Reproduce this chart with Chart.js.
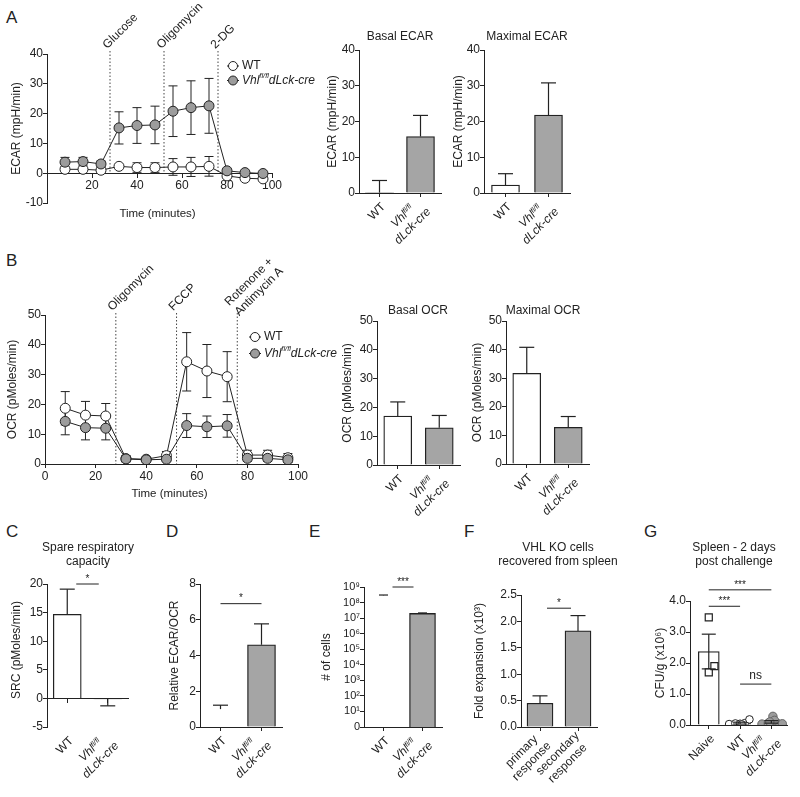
<!DOCTYPE html>
<html>
<head>
<meta charset="utf-8">
<script src="https://cdn.jsdelivr.net/npm/chart.js@4/dist/chart.umd.min.js"></script>
<style>
  body { margin: 0; background: #fff; width: 800px; height: 797px; position: relative; overflow: hidden;
         font-family: 'Liberation Sans', Arial, sans-serif; color: #222; }
  canvas { position: absolute; left: 0; top: 0; }
  .panel { position: absolute; font-size: 17px; line-height: 17px; }
  .tick, .evt { position: absolute; font-size: 12px; line-height: 1.15; white-space: nowrap; }
  .tick { text-align: center; transform-origin: 100% 50%; transform: translateY(-50%) rotate(-45deg); }
  .evt { text-align: left; transform-origin: 0 50%; transform: translateY(-50%) rotate(-45deg); }
  sup { font-size: 62%; line-height: 0; vertical-align: 0.5em; }
</style>
</head>
<body>
<div class="panel" style="left:6px;top:9px">A</div>
<div class="panel" style="left:6px;top:252px">B</div>
<div class="panel" style="left:6px;top:523px">C</div>
<div class="panel" style="left:166px;top:523px">D</div>
<div class="panel" style="left:309px;top:523px">E</div>
<div class="panel" style="left:464px;top:523px">F</div>
<div class="panel" style="left:644px;top:523px">G</div>

<canvas id="ecarTime" width="800" height="797"></canvas>
<canvas id="ecarBasal" width="800" height="797"></canvas>
<canvas id="ecarMax" width="800" height="797"></canvas>
<canvas id="ocrTime" width="800" height="797"></canvas>
<canvas id="ocrBasal" width="800" height="797"></canvas>
<canvas id="ocrMax" width="800" height="797"></canvas>
<canvas id="srcChart" width="800" height="797"></canvas>
<canvas id="ratioChart" width="800" height="797"></canvas>
<canvas id="cellsChart" width="800" height="797"></canvas>
<canvas id="foldChart" width="800" height="797"></canvas>
<canvas id="cfuChart" width="800" height="797"></canvas>

<script>
// ---- data ----
const timeMin = [8, 16, 24, 32, 40, 48, 56, 64, 72, 80, 88, 96];
const seriesNames = ['WT', 'Vhl fl/fl dLck-cre'];

const ecarWT = [1.3, 1.3, 1.0, 2.3, 1.9, 1.9, 2.1, 2.1, 2.3, -0.9, -1.7, -1.9];
const ecarWTErr = [0.5, 0.5, 0.5, 0.5, 1.6, 1.6, 2.8, 3.2, 3.3, 0.6, 0.6, 0.6];
const ecarVhl = [3.7, 3.9, 3.1, 15.2, 16.0, 16.2, 20.8, 22.0, 22.6, 0.8, 0.2, -0.1];
const ecarVhlErr = [1.6, 1.4, 1.0, 5.4, 6.0, 6.3, 8.5, 9.0, 9.2, 0.8, 0.6, 0.5];
const ecarEventTimes = [28, 52, 76];
const ecarEventLabels = [['Glucose'], ['Oligomycin'], ['2-DG']];
const ecarTicksX = [20, 40, 60, 80, 100];
const ecarTicksY = [-10, 0, 10, 20, 30, 40];

const ocrWT = [18.7, 16.4, 16.1, 1.8, 1.6, 2.8, 34.3, 31.2, 29.3, 3.0, 3.0, 2.1];
const ocrWTErr = [5.6, 4.6, 4.2, 1.0, 0.6, 1.4, 9.8, 8.9, 8.4, 1.6, 1.6, 1.4];
const ocrVhl = [14.3, 12.2, 12.0, 1.7, 1.4, 1.6, 12.9, 12.5, 12.8, 1.9, 1.9, 1.4];
const ocrVhlErr = [4.5, 4.1, 3.9, 1.0, 0.6, 0.8, 4.0, 3.6, 3.8, 1.0, 1.0, 0.8];
const ocrEventTimes = [28, 52, 76];
const ocrEventLabels = [['Oligomycin'], ['FCCP'], ['Rotenone +', 'Antimycin A']];
const ocrTicksX = [0, 20, 40, 60, 80, 100];
const ocrTicksY = [0, 10, 20, 30, 40, 50];

const genotypes = ['WT', 'Vhl fl/fl dLck-cre'];
const basalEcar = [0.1, 15.8];
const basalEcarErr = [3.4, 5.9];
const maxEcar = [2.2, 21.8];
const maxEcarErr = [3.2, 9.0];
const basalOcr = [17.0, 12.9];
const basalOcrErr = [4.9, 4.3];
const maxOcr = [31.7, 12.8];
const maxOcrErr = [9.1, 3.8];

const srcValues = [14.7, -0.1];
const srcErr = [4.4, 1.2];
const srcTicks = [-5, 0, 5, 10, 15, 20];

const ratioValues = [1.0, 4.6];
const ratioErr = [0.22, 1.17];
const ratioTicks = [0, 2, 4, 6, 8];

const cellCounts = [2.9e8, 2.0e7];
const cellCountsErr = [0.15e8, 0.15e7];
const cellTicks = [1, 1e1, 1e2, 1e3, 1e4, 1e5, 1e6, 1e7, 1e8, 1e9];

const expansionGroups = ['primary response', 'secondary response'];
const foldExpansion = [0.45, 1.82];
const foldErr = [0.14, 0.29];
const foldTicks = [0, 0.5, 1.0, 1.5, 2.0, 2.5];

const cfuGroups = ['Naive', 'WT', 'Vhl fl/fl dLck-cre'];
const cfuMean = [2.37, 0.06, 0.10];
const cfuErr = [0.56, 0.03, 0.04];
const cfuNaive = [3.47, 1.70, 1.90];
const cfuWT = [0.03, 0.05, 0.04, 0.06, 0.18, 0.02];
const cfuVhl = [0.03, 0.06, 0.28, 0.05, 0.04, 0.15, 0.10];
const cfuTicks = [0, 1, 2, 3, 4];

// significance: [group a, group b, height, mark]
const srcSig = [[0, 1, 20, '*']];
const ratioSig = [[0, 1, 6.9, '*']];
const cellSig = [[0, 1, 1e9, '***']];
const foldSig = [[0, 1, 2.25, '*']];
const cfuSig = [[0, 1, 3.83, '***'], [0, 2, 4.36, '***'], [1, 2, 1.32, 'ns']];

// ---- drawing helpers ----
const FONT = "'Liberation Sans', Arial, Helvetica, sans-serif";
const INK = '#222';
const GREY = '#a5a5a5';
const DOT_GREY = '#9c9c9c';

function setFont(ctx, size, italic) {
  ctx.font = (italic ? 'italic ' : '') + size + 'px ' + FONT;
}

function richInline(name) {
  if (name.startsWith('Vhl')) {
    const parts = name.split(' ');
    return [['Vhl', 'i'], [parts[1], 'is'], [parts[2], 'i']];
  }
  return [[name, '']];
}
function richHTML(name) {
  if (name.startsWith('Vhl')) {
    const parts = name.split(' ');
    return '<i>Vhl<sup>' + parts[1] + '</sup></i><br><i>' + parts[2] + '</i>';
  }
  return name.split(' ').join('<br>');
}

function drawSegs(ctx, segs, x, y, size) {
  for (const [t, f] of segs) {
    const sup = f.includes('s');
    setFont(ctx, sup ? size * 0.62 : size, f.includes('i'));
    ctx.fillText(t, x, sup ? y - size * 0.36 : y);
    x += ctx.measureText(t).width;
  }
}

function seg(ctx, x1, y1, x2, y2) {
  ctx.beginPath();
  ctx.moveTo(x1, y1);
  ctx.lineTo(x2, y2);
  ctx.stroke();
}

function text(ctx, s, x, y, size, rot) {
  ctx.save();
  setFont(ctx, size, false);
  ctx.fillStyle = INK;
  ctx.textAlign = 'center';
  ctx.textBaseline = 'middle';
  ctx.translate(x, y);
  if (rot) ctx.rotate(rot);
  ctx.fillText(s, 0, 0);
  ctx.restore();
}

// slanted category label: right end of the block at (x, y)
function tickLabel(name, x, y) {
  const d = document.createElement('div');
  d.className = 'tick';
  d.innerHTML = richHTML(name);
  d.style.right = (800 - x) + 'px';
  d.style.top = y + 'px';
  document.body.appendChild(d);
}
// slanted event label: left middle of the block at (x, y)
function eventLabel(lines, x, y) {
  const d = document.createElement('div');
  d.className = 'evt';
  d.innerHTML = lines.join('<br>');
  d.style.left = x + 'px';
  d.style.top = y + 'px';
  document.body.appendChild(d);
}

function padFor(L, T, R, B, xh) {
  return { left: L - 40, top: T, right: 800 - R, bottom: 797 - B - (xh || 0) };
}

function yScale(min, max, ticks, fmt, size) {
  return {
    type: 'linear', min, max,
    afterFit: s => { s.width = 40; },
    afterBuildTicks: s => { s.ticks = ticks.map(v => ({ value: v })); },
    grid: { drawOnChartArea: false, drawTicks: true, tickLength: 4, color: INK, tickColor: INK },
    border: { display: true, color: INK, width: 1 },
    ticks: { autoSkip: false, padding: 0, color: INK, font: { family: FONT, size: size || 12 },
             callback: fmt || (v => String(v)) }
  };
}

const baseOptions = () => ({
  responsive: false, animation: false, events: [], devicePixelRatio: 1,
  plugins: { legend: { display: false }, tooltip: { enabled: false } }
});

// ---- time course charts ----
function lineChart(id, c) {
  const series = [
    { name: seriesNames[0], values: c.wt, errs: c.wtErr, fill: '#fff', order: 1 },
    { name: seriesNames[1], values: c.vhl, errs: c.vhlErr, fill: DOT_GREY, order: 0 }
  ];
  const xh = c.xAtZero ? 0 : 20;
  const deco = {
    id: 'deco',
    beforeDatasetsDraw(chart) {
      const ctx = chart.ctx, xs = chart.scales.x, ys = chart.scales.y;
      ctx.save();
      ctx.strokeStyle = '#444';
      ctx.lineWidth = 1;
      ctx.setLineDash([1.5, 2]);
      c.eventTimes.forEach(t => {
        const px = xs.getPixelForValue(t);
        seg(ctx, px, c.eventTop, px, ys.getPixelForValue(0));
      });
      ctx.setLineDash([]);
      ctx.strokeStyle = INK;
      series.forEach(s => s.values.forEach((v, i) => {
        const px = xs.getPixelForValue(timeMin[i]);
        const a = ys.getPixelForValue(v + s.errs[i]);
        const b = ys.getPixelForValue(v - s.errs[i]);
        seg(ctx, px, a, px, b);
        seg(ctx, px - 4.5, a, px + 4.5, a);
        seg(ctx, px - 4.5, b, px + 4.5, b);
      }));
      ctx.restore();
    },
    afterDraw(chart) {
      const ctx = chart.ctx, xs = chart.scales.x, ca = chart.chartArea;
      if (!chart.$labelsDone) {
        chart.$labelsDone = true;
        c.eventTimes.forEach((t, i) => eventLabel(c.eventLabels[i], xs.getPixelForValue(t) - 5.5, c.eventTop - 4.5));
      }
      ctx.save();
      ctx.strokeStyle = INK;
      ctx.lineWidth = 1;
      series.forEach((s, k) => {
        const x0 = c.legend[0], y0 = c.legend[1] + k * c.legend[2];
        seg(ctx, x0 - 6, y0, x0 + 6, y0);
        ctx.beginPath();
        ctx.arc(x0, y0, 4.5, 0, Math.PI * 2);
        ctx.fillStyle = s.fill;
        ctx.fill();
        ctx.stroke();
        ctx.fillStyle = INK;
        ctx.textAlign = 'left';
        ctx.textBaseline = 'middle';
        drawSegs(ctx, richInline(s.name), x0 + 9, y0, 12);
      });
      ctx.restore();
      text(ctx, c.yTitle, c.yTitleX, (ca.top + ca.bottom) / 2, 12, -Math.PI / 2);
      text(ctx, 'Time (minutes)', (ca.left + ca.right) / 2 - 2, c.xTitleY, 11.5);
    }
  };
  return new Chart(document.getElementById(id), {
    type: 'line',
    data: {
      datasets: series.map(s => ({
        label: s.name,
        data: timeMin.map((t, i) => ({ x: t, y: s.values[i] })),
        borderColor: INK, borderWidth: 1, tension: 0,
        pointRadius: 5, pointBorderWidth: 1, pointBorderColor: INK,
        pointBackgroundColor: s.fill, backgroundColor: s.fill, order: s.order
      }))
    },
    options: Object.assign(baseOptions(), {
      layout: { padding: padFor(...c.area, xh) },
      scales: {
        x: {
          type: 'linear', min: 0, max: 100, position: c.xAtZero ? { y: 0 } : 'bottom', offset: false,
          afterFit: s => { s.height = xh; },
          afterBuildTicks: s => { s.ticks = c.ticksX.map(v => ({ value: v })); },
          grid: { drawOnChartArea: false, tickLength: 4, color: INK, offset: false },
          border: { display: true, color: INK, width: 1 },
          ticks: { autoSkip: false, maxRotation: 0, padding: 1, color: INK, font: { family: FONT, size: 12 } }
        },
        y: yScale(c.yMin, c.yMax, c.ticksY)
      }
    }),
    plugins: [deco]
  });
}

lineChart('ecarTime', {
  area: [47, 54, 272, 203], wt: ecarWT, wtErr: ecarWTErr, vhl: ecarVhl, vhlErr: ecarVhlErr,
  eventTimes: ecarEventTimes, eventLabels: ecarEventLabels, eventTop: 51,
  ticksX: ecarTicksX, ticksY: ecarTicksY, yMin: -10, yMax: 40, xAtZero: true,
  legend: [233, 66, 14.5], yTitle: 'ECAR (mpH/min)', yTitleX: 17, xTitleY: 214
});

lineChart('ocrTime', {
  area: [45, 315, 298, 464], wt: ocrWT, wtErr: ocrWTErr, vhl: ocrVhl, vhlErr: ocrVhlErr,
  eventTimes: ocrEventTimes, eventLabels: ocrEventLabels, eventTop: 313,
  ticksX: ocrTicksX, ticksY: ocrTicksY, yMin: 0, yMax: 50, xAtZero: false,
  legend: [255, 337, 16.5], yTitle: 'OCR (pMoles/min)', yTitleX: 13, xTitleY: 494
});

// ---- bar charts ----
function barChart(id, c) {
  const deco = {
    id: 'deco',
    afterDraw(chart) {
      const ctx = chart.ctx, xs = chart.scales.x, ys = chart.scales.y, ca = chart.chartArea;
      const cap = c.cap || 7.5;
      ctx.save();
      ctx.strokeStyle = INK;
      ctx.lineWidth = 1.2;
      c.values.forEach((v, i) => {
        const px = xs.getPixelForValue(i);
        const dir = v < 0 ? -1 : 1;
        const a = ys.getPixelForValue(v + dir * c.errs[i]);
        const b = ys.getPixelForValue(v);
        seg(ctx, px, a, px, b);
        seg(ctx, px - cap, a, px + cap, a);
      });
      ctx.lineWidth = 1;
      (c.sig || []).forEach(([i, j, h, mark]) => {
        const ins = c.sigInset || 0;
        const x1 = xs.getPixelForValue(i) + ins, x2 = xs.getPixelForValue(j) - ins;
        const py = ys.getPixelForValue(h);
        seg(ctx, x1, py, x2, py);
        text(ctx, mark, (x1 + x2) / 2, py - 5, 10);
      });
      ctx.restore();
      if (!chart.$labelsDone) {
        chart.$labelsDone = true;
        c.labels.forEach((name, i) => tickLabel(name, xs.getPixelForValue(i) + 4, ca.bottom + 12));
      }
      if (c.title) {
        c.title.forEach((t, k) => text(ctx, t, c.titlePos[0], c.titlePos[1] + k * 14, 12));
      }
      text(ctx, c.yTitle, c.yTitleX, c.yTitleY || (ca.top + ca.bottom) / 2, 12, -Math.PI / 2);
    }
  };
  const y = c.yScale || yScale(c.yMin, c.yMax, c.ticks, c.fmt);
  return new Chart(document.getElementById(id), {
    type: 'bar',
    data: {
      labels: c.labels,
      datasets: [{
        data: c.values,
        backgroundColor: c.colors,
        borderColor: c.borders || c.colors.map(() => INK),
        borderWidth: 1.3,
        barThickness: c.barThickness || 28
      }]
    },
    options: Object.assign(baseOptions(), {
      layout: { padding: padFor(...c.area) },
      scales: {
        x: {
          type: 'category', position: c.xAtZero ? { y: 0 } : 'bottom', offset: true,
          afterFit: s => { s.height = 0; },
          grid: { drawOnChartArea: false, offset: false, tickLength: 4, color: INK },
          border: { display: true, color: INK, width: 1 },
          ticks: { display: false }
        },
        y
      }
    }),
    plugins: [deco]
  });
}

barChart('ecarBasal', {
  area: [359, 50, 441, 193], labels: genotypes, values: basalEcar, errs: basalEcarErr,
  colors: ['#fff', GREY], yMin: 0, yMax: 40, ticks: [0, 10, 20, 30, 40],
  title: ['Basal ECAR'], titlePos: [400, 37], yTitle: 'ECAR (mpH/min)', yTitleX: 333
});
barChart('ecarMax', {
  area: [484, 50, 570, 193], labels: genotypes, values: maxEcar, errs: maxEcarErr,
  colors: ['#fff', GREY], yMin: 0, yMax: 40, ticks: [0, 10, 20, 30, 40],
  title: ['Maximal ECAR'], titlePos: [527, 37], yTitle: 'ECAR (mpH/min)', yTitleX: 459
});
barChart('ocrBasal', {
  area: [377, 321, 460, 465], labels: genotypes, values: basalOcr, errs: basalOcrErr,
  colors: ['#fff', GREY], yMin: 0, yMax: 50, ticks: [0, 10, 20, 30, 40, 50],
  title: ['Basal OCR'], titlePos: [418, 311], yTitle: 'OCR (pMoles/min)', yTitleX: 348
});
barChart('ocrMax', {
  area: [506, 321, 589, 464], labels: genotypes, values: maxOcr, errs: maxOcrErr,
  colors: ['#fff', GREY], yMin: 0, yMax: 50, ticks: [0, 10, 20, 30, 40, 50],
  title: ['Maximal OCR'], titlePos: [543, 311], yTitle: 'OCR (pMoles/min)', yTitleX: 478
});
barChart('srcChart', {
  area: [47, 584, 128, 727], labels: genotypes, values: srcValues, errs: srcErr, xAtZero: true,
  colors: ['#fff', GREY], yMin: -5, yMax: 20, ticks: srcTicks, sig: srcSig, sigInset: 9,
  title: ['Spare respiratory', 'capacity'], titlePos: [88, 548], yTitle: 'SRC (pMoles/min)', yTitleX: 17, yTitleY: 650
});
barChart('ratioChart', {
  area: [200, 584, 282, 727], labels: genotypes, values: ratioValues, errs: ratioErr,
  colors: ['#fff', GREY], borders: ['rgba(0,0,0,0)', INK], yMin: 0, yMax: 8, ticks: ratioTicks,
  sig: ratioSig, sigInset: 0, yTitle: 'Relative ECAR/OCR', yTitleX: 175
});

const SUP = '⁰¹²³⁴⁵⁶⁷⁸⁹';
const cellY = yScale(1, 1e9, cellTicks, v => v === 1 ? '0' : '10' + SUP[Math.round(Math.log10(v))], 11);
cellY.type = 'logarithmic';
barChart('cellsChart', {
  area: [364, 587, 442, 727], labels: genotypes, values: cellCounts, errs: cellCountsErr,
  colors: ['#fff', GREY], borders: ['rgba(0,0,0,0)', INK], yScale: cellY, barThickness: 26, cap: 4.5,
  sig: cellSig, sigInset: 9, yTitle: '# of cells', yTitleX: 327
});
barChart('foldChart', {
  area: [521, 595, 597, 727], labels: expansionGroups, values: foldExpansion, errs: foldErr,
  colors: [GREY, GREY], yMin: 0, yMax: 2.5, ticks: foldTicks, fmt: v => v.toFixed(1), barThickness: 26,
  sig: foldSig, sigInset: 7, title: ['VHL KO cells', 'recovered from spleen'], titlePos: [558, 548],
  yTitle: 'Fold expansion (x10³)', yTitleX: 480
});

// ---- CFU: bars with individual points ----
(function () {
  const jitterNaive = [0, 0, 0.18];
  const jitterWT = [-0.35, -0.15, 0.0, 0.15, 0.3, 0.05];
  const jitterVhl = [-0.3, -0.1, 0.05, 0.2, 0.35, 0.1, -0.05];
  const pts = (vals, jit, gi) => vals.map((v, i) => ({ x: gi + jit[i], y: v }));
  const deco = {
    id: 'deco',
    afterDraw(chart) {
      const ctx = chart.ctx, xs = chart.scales.x, ys = chart.scales.y, ca = chart.chartArea;
      ctx.save();
      ctx.strokeStyle = INK;
      ctx.lineWidth = 1.2;
      cfuMean.forEach((v, i) => {
        const px = xs.getPixelForValue(i);
        const a = ys.getPixelForValue(v + cfuErr[i]), b = ys.getPixelForValue(v - cfuErr[i]);
        seg(ctx, px, a, px, b);
        seg(ctx, px - 7, a, px + 7, a);
        seg(ctx, px - 7, b, px + 7, b);
      });
      ctx.lineWidth = 1;
      cfuSig.forEach(([i, j, h, mark]) => {
        const x1 = xs.getPixelForValue(i), x2 = xs.getPixelForValue(j);
        const py = ys.getPixelForValue(h);
        seg(ctx, x1, py, x2, py);
        if (mark === 'ns') text(ctx, mark, (x1 + x2) / 2, py - 8, 12);
        else text(ctx, mark, (x1 + x2) / 2, py - 5, 10);
      });
      ctx.restore();
      if (!chart.$labelsDone) {
        chart.$labelsDone = true;
        cfuGroups.forEach((name, i) => tickLabel(name, xs.getPixelForValue(i) + 4, ca.bottom + 12));
      }
      text(ctx, 'Spleen - 2 days', 734, 548, 12);
      text(ctx, 'post challenge', 734, 562, 12);
      text(ctx, 'CFU/g (x10⁶)', 661, (ca.top + ca.bottom) / 2, 12, -Math.PI / 2);
    }
  };
  new Chart(document.getElementById('cfuChart'), {
    type: 'bar',
    data: {
      datasets: [
        { type: 'scatter', data: pts(cfuNaive, jitterNaive, 0), pointStyle: 'rect', pointRadius: 5,
          pointBackgroundColor: '#fff', pointBorderColor: INK, pointBorderWidth: 1.2, order: 0 },
        { type: 'scatter', data: pts(cfuWT, jitterWT, 1), pointStyle: 'circle', pointRadius: 3.8,
          pointBackgroundColor: '#fff', pointBorderColor: INK, pointBorderWidth: 1, order: 0 },
        { type: 'scatter', data: pts(cfuVhl, jitterVhl, 2), pointStyle: 'circle', pointRadius: 4.2,
          pointBackgroundColor: DOT_GREY, pointBorderColor: '#666', pointBorderWidth: 1, order: 0 },
        { type: 'bar', data: cfuMean.map((v, i) => ({ x: i, y: v })), backgroundColor: '#fff',
          borderColor: INK, borderWidth: 1.3, barThickness: 21, order: 1 }
      ]
    },
    options: Object.assign(baseOptions(), {
      layout: { padding: padFor(690, 601, 787, 725) },
      scales: {
        x: {
          type: 'linear', min: -0.6, max: 2.5, offset: false,
          afterFit: s => { s.height = 0; },
          afterBuildTicks: s => { s.ticks = cfuGroups.map((g, i) => ({ value: i })); },
          grid: { drawOnChartArea: false, offset: false, tickLength: 4, color: INK },
          border: { display: true, color: INK, width: 1 },
          ticks: { display: false }
        },
        y: yScale(0, 4, cfuTicks, v => v.toFixed(1))
      }
    }),
    plugins: [deco]
  });
})();
</script>
</body>
</html>
